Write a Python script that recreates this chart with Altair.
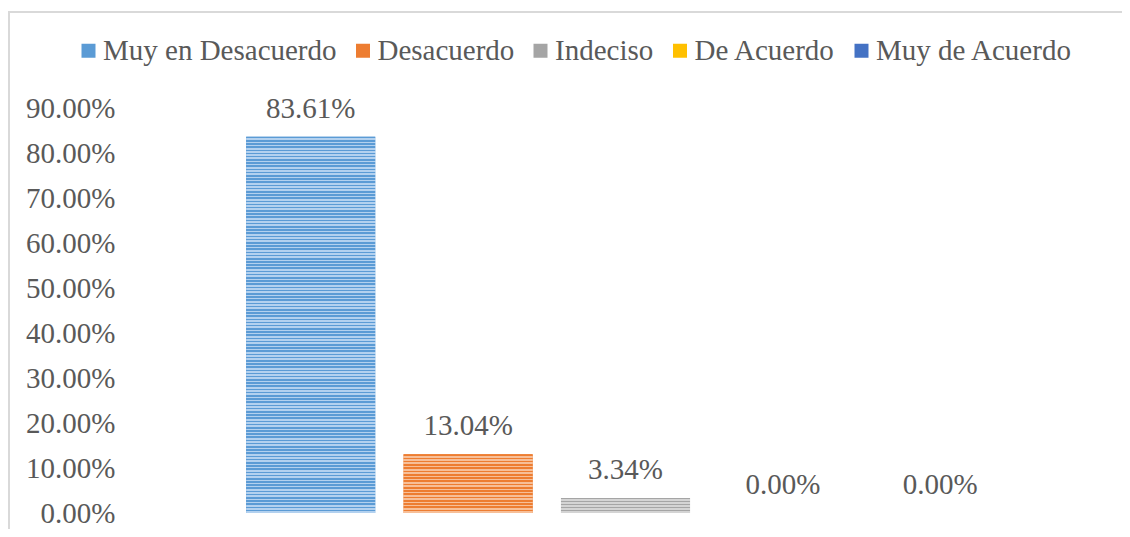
import altair as alt
import pandas as pd

categories = ["Muy en Desacuerdo", "Desacuerdo", "Indeciso", "De Acuerdo", "Muy de Acuerdo"]
values = [0.8361, 0.1304, 0.0334, 0.0, 0.0]
colors = ["#5b9bd5", "#ed7d31", "#a5a5a5", "#ffc000", "#4472c4"]
lights = ["#b3d1ef", "#f7bf98", "#d4d4d4", "#ffe699", "#b4c7e7"]
y_ticks = [0.0, 0.1, 0.2, 0.3, 0.4, 0.5, 0.6, 0.7, 0.8, 0.9]

df = pd.DataFrame({"cat": categories, "val": values})

FONT = "Liberation Serif"
TXT = "#595959"
FS = 29
W, H = 787, 405

xenc = alt.X("cat:N", sort=categories, axis=None,
             scale=alt.Scale(domain=categories, paddingInner=0.18, paddingOuter=0.09))
yenc = alt.Y("val:Q", scale=alt.Scale(domain=[0, 0.9], nice=False),
             axis=alt.Axis(format=".2%", values=y_ticks, grid=False, domain=False, ticks=False,
                           labelFont=FONT, labelFontSize=FS, labelColor=TXT,
                           labelPadding=117, title=None))

base = alt.Chart(df).mark_bar().encode(
    x=xenc, y=yenc,
    color=alt.Color("cat:N", sort=categories,
                    scale=alt.Scale(domain=categories, range=colors),
                    legend=alt.Legend(title=None, orient="none", legendX=-158, legendY=-72,
                                      direction="horizontal", columns=5, padding=0,
                                      labelFont=FONT, labelFontSize=FS, labelColor=TXT,
                                      labelLimit=600,
                                      symbolType="square", symbolSize=196, symbolStrokeWidth=0,
                                      columnPadding=11.5, labelOffset=0))
)


def stripes(dark, light, v):
    n = max(1, round(v * H / 0.9 / 3.2))
    stops = []
    for k in range(n):
        a, b, c = k / n, (k + 0.5) / n, (k + 1) / n
        stops += [{"offset": a, "color": dark}, {"offset": b, "color": dark},
                  {"offset": b, "color": light}, {"offset": c, "color": light}]
    return {"gradient": "linear", "x1": 0, "y1": 0, "x2": 0, "y2": 1, "stops": stops}


layers = [base]
for c, v, d, l in zip(categories, values, colors, lights):
    if v > 0:
        layers.append(
            alt.Chart(df).transform_filter(alt.datum.cat == c)
            .mark_bar(fill=stripes(d, l, v)).encode(x=xenc, y=yenc)
        )

labels = alt.Chart(df).mark_text(font=FONT, fontSize=FS, color=TXT, baseline="alphabetic",
                                 dy=-19).encode(
    x=xenc, y=yenc, text=alt.Text("val:Q", format=".2%"))
layers.append(labels)

frame = alt.Data(values=[{"a": 1}])
top_line = alt.Chart(frame).mark_rule(color="#d9d9d9", strokeWidth=2).encode(
    x=alt.value(-224), x2=alt.value(900), y=alt.value(-96))
left_line = alt.Chart(frame).mark_rule(color="#d9d9d9", strokeWidth=2).encode(
    x=alt.value(-223), y=alt.value(-96), y2=alt.value(430))
layers += [top_line, left_line]

chart = alt.layer(*layers).properties(
    width=W, height=H,
    autosize=alt.AutoSizeParams(type="none"),
    padding={"left": 224, "top": 100, "right": 103, "bottom": 16},
).configure_view(stroke=None)

chart.save("out.html", embed_options={"renderer": "svg", "actions": False})
